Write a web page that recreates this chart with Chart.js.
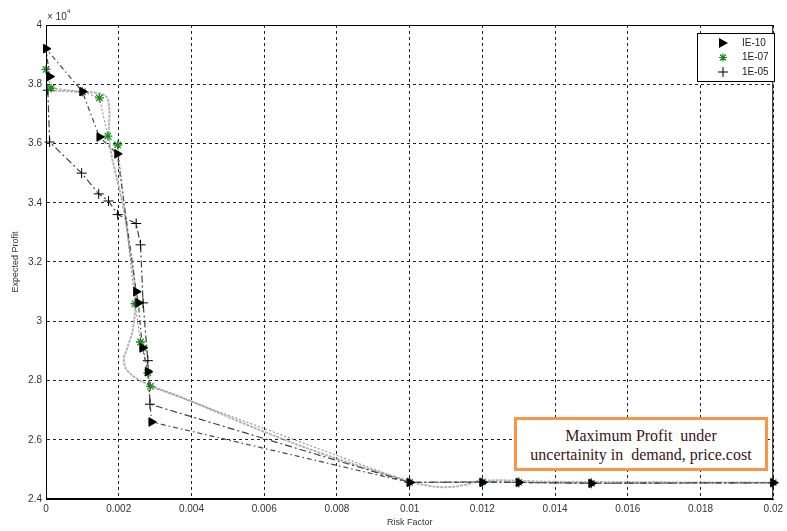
<!DOCTYPE html>
<html>
<head>
<meta charset="utf-8">
<script src="https://cdn.jsdelivr.net/npm/chart.js@4.4.0/dist/chart.umd.min.js"></script>
<style>
body{margin:0;background:#fff}
#wrap{position:relative;width:787px;height:531px}
#note{position:absolute;left:514px;top:417px;width:254px;height:54px;box-sizing:border-box;border:3px solid #f79646;background:#fff;font:16px 'Liberation Serif',serif;color:#3b1616;text-align:center;line-height:19px;padding-top:6px}
</style>
</head>
<body>
<div id="wrap">
<canvas id="chartCanvas" width="787" height="531"></canvas>
<div id="note">Maximum Profit&nbsp; under<br>uncertainity in&nbsp; demand, price.cost</div>
</div>
<script>
// values (profit in units of 10^4)
var riskE10   = [0.0001, 0, 0.001, 0.00147, 0.00196, 0.00248, 0.00254, 0.00265, 0.0028, 0.0029, 0.01, 0.012, 0.013, 0.015, 0.02]
var profitE10 = [3.826, 3.92, 3.775, 3.622, 3.565, 3.10, 3.062, 2.91, 2.83, 2.66, 2.456, 2.456, 2.456, 2.453, 2.455]

var riskE07   = [0, 0.00014, 0.001, 0.00147, 0.0017, 0.00197, 0.00245, 0.0026, 0.00268, 0.0028, 0.00287, 0.01, 0.012, 0.013, 0.015, 0.02]
var profitE07 = [3.85, 3.787, 3.775, 3.754, 3.625, 3.595, 3.059, 2.93, 2.91, 2.826, 2.78, 2.456, 2.458, 2.456, 2.453, 2.455]

var riskE05   = [0.00005, 0.0001, 0.00098, 0.00145, 0.00172, 0.00197, 0.00248, 0.0026, 0.00267, 0.0028, 0.00286, 0.01, 0.012, 0.013, 0.015, 0.02]
var profitE05 = [3.78, 3.605, 3.50, 3.43, 3.406, 3.36, 3.33, 3.258, 3.062, 2.867, 2.72, 2.456, 2.458, 2.456, 2.453, 2.455]

// smooth grey curve
var curveRisk   = [0, 0.0008, 0.0014, 0.0017, 0.00175, 0.0021, 0.0023, 0.00245, 0.0024, 0.00222, 0.00214, 0.00226, 0.00275, 0.0037, 0.006, 0.008, 0.01, 0.0105, 0.011, 0.0115, 0.012, 0.014, 0.02]
var curveProfit = [3.78, 3.775, 3.77, 3.75, 3.6, 3.4, 3.25, 3.1, 2.98, 2.904, 2.87, 2.83, 2.79, 2.745, 2.627, 2.536, 2.46, 2.445, 2.44, 2.447, 2.462, 2.458, 2.455]

var seriesNames = ['IE-10', '1E-07', '1E-05']
var xTicks = [0, 0.002, 0.004, 0.006, 0.008, 0.01, 0.012, 0.014, 0.016, 0.018, 0.02]

function toPoints(xs, ys){
	return xs.map(function(x, i){ return {x: x, y: ys[i]} })
}

function drawMarker(ctx, kind, x, y){
	ctx.save()
	if(kind == 0){
		ctx.fillStyle = '#000'
		ctx.beginPath()
		ctx.moveTo(x - 4, y - 5)
		ctx.lineTo(x + 5, y)
		ctx.lineTo(x - 4, y + 5)
		ctx.closePath()
		ctx.fill()
	} else if(kind == 1){
		ctx.strokeStyle = '#1a8c1a'
		ctx.lineWidth = 1.2
		ctx.beginPath()
		ctx.moveTo(x - 4, y); ctx.lineTo(x + 4, y)
		ctx.moveTo(x, y - 4); ctx.lineTo(x, y + 4)
		ctx.moveTo(x - 3, y - 3); ctx.lineTo(x + 3, y + 3)
		ctx.moveTo(x - 3, y + 3); ctx.lineTo(x + 3, y - 3)
		ctx.stroke()
	} else {
		ctx.strokeStyle = '#000'
		ctx.lineWidth = 1
		ctx.beginPath()
		ctx.moveTo(x - 5, y); ctx.lineTo(x + 5, y)
		ctx.moveTo(x, y - 5); ctx.lineTo(x, y + 5)
		ctx.stroke()
	}
	ctx.restore()
}

var framePlugin = {
	id: 'frame',
	afterDraw: function(chart){
		var ctx = chart.ctx, a = chart.chartArea
		ctx.save()
		ctx.strokeStyle = '#000'
		ctx.lineWidth = 1
		ctx.strokeRect(a.left + 0.5, a.top + 0.5, a.right - a.left - 1, a.bottom - a.top - 1)
		// exponent label
		ctx.fillStyle = '#333'
		ctx.font = '10px "Liberation Sans", Arial'
		ctx.textBaseline = 'alphabetic'
		ctx.fillText('\u00d7 10', 47, 20)
		ctx.font = '6px "Liberation Sans", Arial'
		ctx.fillText('4', 67, 13)
		// legend
		ctx.fillStyle = '#fff'
		ctx.fillRect(697, 33, 77, 48)
		ctx.strokeRect(697.5, 33.5, 77, 48)
		ctx.font = '10px "Liberation Sans", Arial'
		ctx.textBaseline = 'middle'
		for(var i = 0; i < seriesNames.length; i++){
			var y = 43 + i * 14.5
			drawMarker(ctx, i, 723, y)
			ctx.fillStyle = '#222'
			ctx.fillText(seriesNames[i], 742, y)
		}
		ctx.restore()
	}
}

function showChart(){
	var ctx = document.getElementById('chartCanvas').getContext('2d')
	var data = {
		datasets: [
		{
			label: seriesNames[0],
			data: toPoints(riskE10, profitE10),
			showLine: true,
			clip: false,
			borderColor: '#4a4a4a',
			borderWidth: 1.2,
			borderDash: [5, 3, 1.5, 3],
			pointStyle: 'triangle',
			rotation: 90,
			pointRadius: 5,
			pointBackgroundColor: '#000',
			pointBorderColor: '#000',
			pointBorderWidth: 1
		},
		{
			label: seriesNames[1],
			data: toPoints(riskE07, profitE07),
			showLine: true,
			clip: false,
			borderColor: '#808080',
			borderWidth: 1,
			borderDash: [2, 2],
			pointStyle: 'star',
			pointRadius: 4.5,
			pointBorderColor: '#1a8c1a',
			pointBackgroundColor: '#1a8c1a',
			pointBorderWidth: 1.3
		},
		{
			label: seriesNames[2],
			data: toPoints(riskE05, profitE05),
			showLine: true,
			clip: false,
			borderColor: '#404040',
			borderWidth: 1.2,
			borderDash: [7, 3, 2, 3],
			pointStyle: 'cross',
			pointRadius: 5,
			pointBorderColor: '#000',
			pointBorderWidth: 1
		},
		{
			label: 'curve',
			data: toPoints(curveRisk, curveProfit),
			showLine: true,
			borderColor: '#b4b4b4',
			borderWidth: 2,
			borderDash: [3, 1],
			tension: 0.4,
			pointRadius: 0
		}
		]
	}
	new Chart(ctx, {
		type: 'scatter',
		data: data,
		options: {
			responsive: false,
			animation: false,
			layout: {padding: {top: 25, right: 8, left: 0, bottom: 0}},
			plugins: {legend: {display: false}, tooltip: {enabled: false}},
			scales: {
				x: {
					type: 'linear',
					min: 0, max: 0.02,
					afterFit: function(s){ s.height = 32 },
					afterBuildTicks: function(s){ s.ticks = xTicks.map(function(v){ return {value: v} }) },
					grid: {color: '#222', lineWidth: 1, drawTicks: false},
					border: {display: true, color: '#000', dash: [3, 3]},
					ticks: {
						padding: 4, color: '#333',
						font: {family: '"Liberation Sans", Arial', size: 10},
						maxRotation: 0, autoSkip: false,
						callback: function(v){ return String(+v.toFixed(4)) }
					},
					title: {display: true, text: 'Risk Factor', color: '#333', font: {family: '"Liberation Sans", Arial', size: 9}, padding: {top: 0, bottom: 3}}
				},
				y: {
					min: 2.4, max: 4,
					afterFit: function(s){ s.width = 46 },
					grid: {color: '#222', lineWidth: 1, drawTicks: false},
					border: {display: true, color: '#000', dash: [3, 3]},
					ticks: {
						stepSize: 0.2, padding: 4, color: '#333',
						font: {family: '"Liberation Sans", Arial', size: 10},
						callback: function(v){ return String(+v.toFixed(2)) }
					},
					title: {display: true, text: 'Expected Profit', color: '#333', font: {family: '"Liberation Sans", Arial', size: 9}, padding: {top: 10, bottom: 0}}
				}
			}
		},
		plugins: [framePlugin]
	})
}

showChart()
</script>
</body>
</html>
